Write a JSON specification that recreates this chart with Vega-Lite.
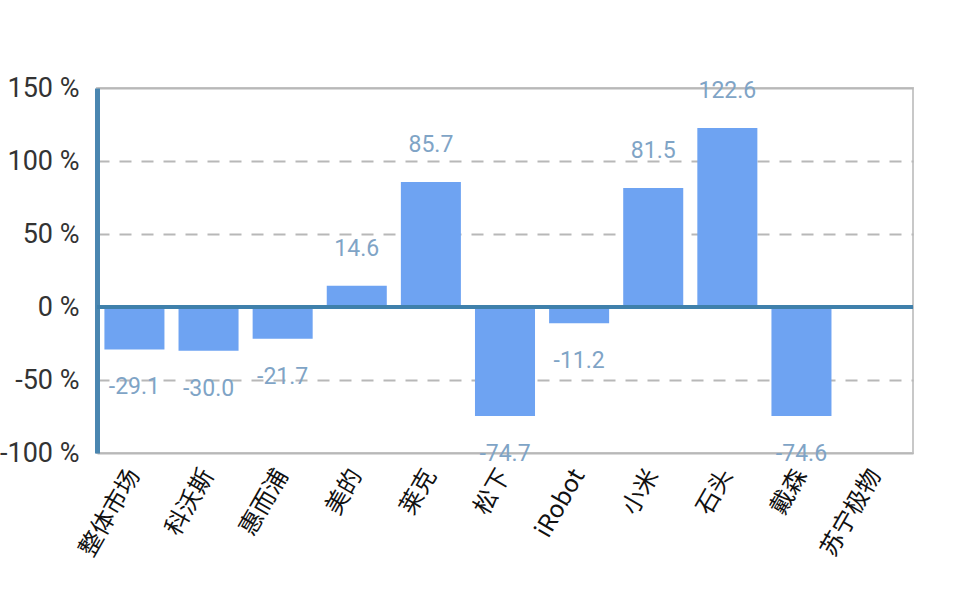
{
  "$schema": "https://vega.github.io/schema/vega-lite/v6.json",
  "autosize": {"type": "none"},
  "width": 816,
  "height": 365,
  "padding": {"left": 97, "top": 88, "right": 42, "bottom": 157},
  "background": "white",
  "config": {
    "view": {"stroke": "#c8c8c8", "strokeWidth": 2},
    "font": "Roboto"
  },
  "data": {
    "values": [
      {"name": "整体市场", "value": -29.1},
      {"name": "科沃斯", "value": -30.0},
      {"name": "惠而浦", "value": -21.7},
      {"name": "美的", "value": 14.6},
      {"name": "莱克", "value": 85.7},
      {"name": "松下", "value": -74.7},
      {"name": "iRobot", "value": -11.2},
      {"name": "小米", "value": 81.5},
      {"name": "石头", "value": 122.6},
      {"name": "戴森", "value": -74.6},
      {"name": "苏宁极物", "value": null}
    ]
  },
  "layer": [
    {
      "mark": {"type": "bar", "color": "#6ea3f2"},
      "encoding": {
        "x": {
          "field": "name",
          "type": "nominal",
          "sort": null,
          "title": null,
          "scale": {"domain": ["整体市场", "科沃斯", "惠而浦", "美的", "莱克", "松下", "iRobot", "小米", "石头", "戴森", "苏宁极物"], "paddingInner": 0.19, "paddingOuter": 0.1},
          "axis": {
            "domain": false,
            "ticks": false,
            "labelAngle": -60,
            "labelAlign": "right",
            "labelBaseline": "middle",
            "labelPadding": 18,
            "labelFontSize": 24,
            "labelFont": "Noto Sans CJK SC",
            "labelColor": "#111111"
          }
        },
        "y": {
          "field": "value",
          "type": "quantitative",
          "title": null,
          "scale": {"domain": [-100, 150], "nice": false, "zero": false},
          "axis": {
            "values": [-100, -50, 0, 50, 100, 150],
            "labelExpr": "datum.value + ' %'",
            "labelFontSize": 27,
            "labelColor": "#333333",
            "labelPadding": 18,
            "ticks": false,
            "domain": true,
            "domainColor": "#4a86b0",
            "domainWidth": 5,
            "grid": true,
            "gridColor": "#b8b8b8",
            "gridWidth": 2,
            "gridDash": {"condition": {"test": "datum.value == 150 || datum.value == -100", "value": []}, "value": [12, 10]}
          }
        }
      }
    },
    {
      "transform": [
        {"filter": "datum.value != null && datum.value >= 0"},
        {"calculate": "replace(format(datum.value, '.1f'), '\u2212', '-')", "as": "label"}
      ],
      "mark": {"type": "text", "baseline": "middle", "dy": -37, "fontSize": 23, "color": "#7fa4c6"},
      "encoding": {
        "x": {"field": "name", "type": "nominal", "sort": null},
        "y": {"field": "value", "type": "quantitative"},
        "text": {"field": "label", "type": "nominal"}
      }
    },
    {
      "transform": [
        {"filter": "datum.value != null && datum.value < 0"},
        {"calculate": "replace(format(datum.value, '.1f'), '\u2212', '-')", "as": "label"}
      ],
      "mark": {"type": "text", "baseline": "middle", "dy": 38, "fontSize": 23, "color": "#7fa4c6"},
      "encoding": {
        "x": {"field": "name", "type": "nominal", "sort": null},
        "y": {"field": "value", "type": "quantitative"},
        "text": {"field": "label", "type": "nominal"}
      }
    },
    {
      "mark": {"type": "rule", "color": "#3f80ab", "strokeWidth": 4},
      "encoding": {"y": {"datum": 0}}
    }
  ]
}
